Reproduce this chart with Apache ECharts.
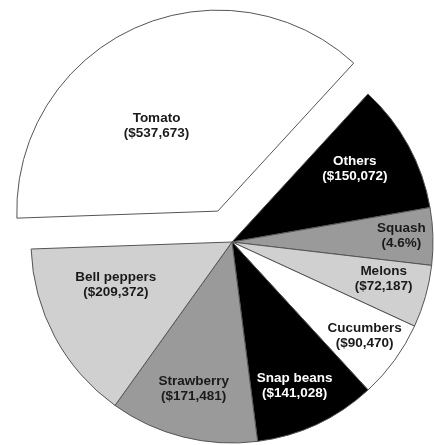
<!DOCTYPE html>
<html>
<head>
<meta charset="utf-8">
<script src="https://cdn.jsdelivr.net/npm/echarts@6/dist/echarts.min.js"></script>
<style>
html,body{margin:0;padding:0;background:#fff;}
#chart{width:434px;height:445px;}
</style>
</head>
<body>
<div id="chart"></div>
<script>
// Data (clockwise order, starting with Tomato)
var categories = ['Tomato', 'Others', 'Squash', 'Melons', 'Cucumbers', 'Snap beans', 'Strawberry', 'Bell peppers'];
var values = [537673, 150072, 66169, 72187, 90470, 141028, 171481, 209372];
var valueLabels = ['($537,673)', '($150,072)', '(4.6%)', '($72,187)', '($90,470)', '($141,028)', '($171,481)', '($209,372)'];

// Styles
var fills = ['#ffffff', '#000000', '#9a9a9a', '#d0d0d0', '#ffffff', '#000000', '#9a9a9a', '#d0d0d0'];
var textColors = ['#1a1a1a', '#ffffff', '#1a1a1a', '#1a1a1a', '#1a1a1a', '#ffffff', '#1a1a1a', '#1a1a1a'];
var labelShift = [[-18, 9], [32, -24], [66, -3], [52, 9], [49, 33], [19, 50], [-13, 46], [-25, -6]];

var chart = echarts.init(document.getElementById('chart'), null, {renderer: 'canvas'});
var data = categories.map(function (c, i) {
  return {
    name: c,
    value: values[i],
    selected: i === 0,
    itemStyle: {color: fills[i]},
    label: {color: textColors[i]}
  };
});

chart.setOption({
  animation: false,
  backgroundColor: '#ffffff',
  series: [{
    type: 'pie',
    center: [232, 242],
    radius: 201,
    startAngle: 182,
    clockwise: true,
    selectedMode: 'single',
    selectedOffset: 34,
    avoidLabelOverlap: false,
    data: data,
    itemStyle: {borderColor: '#555555', borderWidth: 1},
    emphasis: {disabled: true},
    label: {
      show: true,
      position: 'inside',
      fontFamily: 'Liberation Sans, Arial, sans-serif',
      fontWeight: 'bold',
      fontSize: 13.5,
      lineHeight: 15,
      align: 'center',
      textBorderWidth: 0,
      textBorderColor: 'transparent',
      formatter: function (p) { return p.name + '\n' + valueLabels[p.dataIndex]; }
    },
    labelLine: {show: false},
    labelLayout: function (p) {
      var s = labelShift[p.dataIndex];
      return {dx: s[0], dy: s[1]};
    }
  }]
});
</script>
</body>
</html>
